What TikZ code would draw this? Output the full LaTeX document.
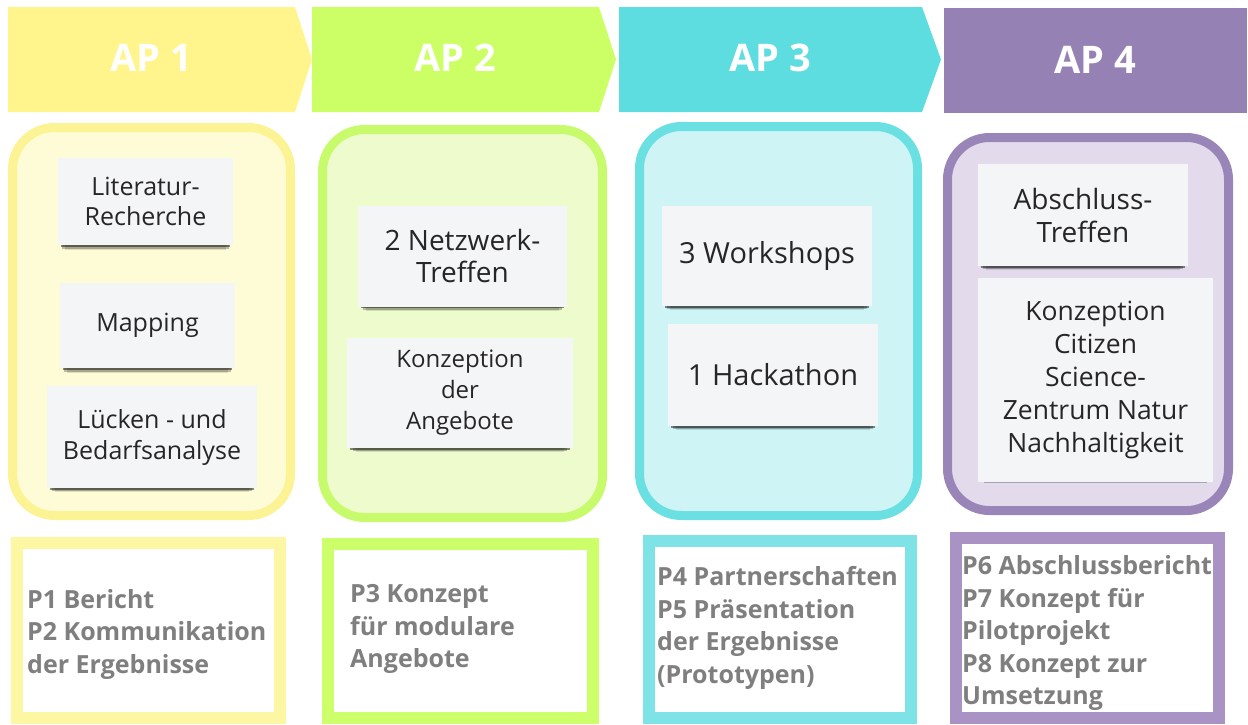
\documentclass[tikz,border=0pt]{standalone}
\usepackage{fontspec}
\setmainfont{Open Sans}
\usetikzlibrary{shadows}

\definecolor{yelHead}{HTML}{FFF58C}
\definecolor{yelLine}{HTML}{FCF494}
\definecolor{yelFill}{HTML}{FEFCD6}
\definecolor{yelOut}{HTML}{FDF6A2}
\definecolor{grnHead}{HTML}{CCFF66}
\definecolor{grnLine}{HTML}{C8FB6C}
\definecolor{grnFill}{HTML}{EEFBCD}
\definecolor{grnOut}{HTML}{CCFF6A}
\definecolor{cyaHead}{HTML}{5DDDE0}
\definecolor{cyaLine}{HTML}{6BE0E3}
\definecolor{cyaFill}{HTML}{CFF4F5}
\definecolor{cyaOut}{HTML}{7DE3E6}
\definecolor{vioHead}{HTML}{9681B5}
\definecolor{vioLine}{HTML}{9A85B9}
\definecolor{vioFill}{HTML}{E3DBEB}
\definecolor{vioOut}{HTML}{A893C4}
\definecolor{cardFill}{HTML}{F4F5F7}
\definecolor{cardInk}{HTML}{262626}
\definecolor{outInk}{HTML}{7F7F7F}

\begin{document}
\begin{tikzpicture}[x=1pt,y=-1pt,
head/.style = {% AP labels in the arrows
    text=white, font=\fontsize{38}{40}\selectfont\bfseries,
              },
phase/.style = {% rounded column frames
    line width=9pt, rounded corners=42pt,
               },
card/.style = {% sticky notes, soft shadow at the lower edge
    fill=cardFill, text=cardInk, align=center, inner sep=0pt,
    drop shadow={shadow xshift=0pt, shadow yshift=-9pt,
                 shadow scale=0.92, opacity=0.12, fill=black},
    drop shadow={shadow xshift=0pt, shadow yshift=-6pt,
                 shadow scale=0.95, opacity=0.25, fill=black},
    drop shadow={shadow xshift=0pt, shadow yshift=-3.5pt,
                 shadow scale=0.97, opacity=0.45, fill=black},
              },
resbox/.style = {% results boxes
    line width=12pt, fill=white,
                },
restext/.style = {% results text
    anchor=west, align=left, text=outInk, inner sep=0pt,
    font=\fontsize{25}{32.5}\selectfont\bfseries,
                 },                    ]

  \useasboundingbox (0,0) rectangle (1248,724);
  \fill[white] (0,0) rectangle (1248,724);

  % arrows on top
  \fill[yelHead] (8,7) -- (295,7) -- (312,59.5) -- (295,112) -- (8,112) -- cycle;
  \fill[grnHead] (312,7) -- (599,7) -- (616,59.5) -- (599,112) -- (312,112) -- cycle;
  \fill[cyaHead] (619,7) -- (922,7) -- (941,59.5) -- (922,112) -- (619,112) -- cycle;
  \fill[vioHead] (944,8) rectangle (1247,113);
  \node[head] (ap1) at (151,58) {AP 1};
  \node[head] (ap2) at (455,58) {AP 2};
  \node[head] (ap3) at (770,58) {AP 3};
  \node[head] (ap4) at (1095,60) {AP 4};

  % column frames
  \draw[phase, draw=yelLine, fill=yelFill] (12.5,127.5) rectangle (290.5,515.5);
  \draw[phase, draw=grnLine, fill=grnFill] (322.5,129.5) rectangle (602.5,517.5);
  \draw[phase, draw=cyaLine, fill=cyaFill] (639.5,126.5) rectangle (917.5,515.5);
  \draw[phase, draw=vioLine, fill=vioFill] (947.5,137.5) rectangle (1228.5,510.5);

  % sticky notes
  \node[card, minimum width=175pt, minimum height=87pt,
        font=\fontsize{25}{30}\selectfont] (lit) at (145.5,201.5)
        {Literatur-\\Recherche};
  \node[card, minimum width=175pt, minimum height=85pt,
        font=\fontsize{25}{30}\selectfont] (map) at (147.5,325.5)
        {Mapping};
  \node[card, minimum width=210pt, minimum height=102pt,
        font=\fontsize{25}{31}\selectfont] (gap) at (152,437)
        {Lücken - und\\Bedarfsanalyse};
  \node[card, minimum width=209pt, minimum height=101pt,
        font=\fontsize{28}{32}\selectfont] (net) at (462.5,256)
        {2 Netzwerk-\\Treffen};
  \node[card, minimum width=226pt, minimum height=110pt,
        font=\fontsize{24}{31}\selectfont] (conc) at (460,393)
        {Konzeption\\der\\Angebote};
  \node[card, minimum width=210pt, minimum height=100pt,
        font=\fontsize{29}{33}\selectfont] (ws) at (767,256)
        {3 Workshops};
  \node[card, minimum width=210pt, minimum height=102pt,
        font=\fontsize{29}{33}\selectfont] (hack) at (773,375)
        {1 Hackathon};
  \node[card, minimum width=210pt, minimum height=102pt,
        font=\fontsize{28}{33}\selectfont] (fin) at (1083,215)
        {Abschluss-\\Treffen};
  \node[card, minimum width=235pt, minimum height=204pt,
        font=\fontsize{26.5}{33}\selectfont] (csz) at (1095.5,380)
        {Konzeption\\Citizen\\Science-\\Zentrum Natur\\Nachhaltigkeit};

  % results
  \draw[resbox, draw=yelOut] (17,543) rectangle (280,718);
  \draw[resbox, draw=grnOut] (328,544) rectangle (593,718);
  \draw[resbox, draw=cyaOut] (649,541) rectangle (911,718);
  \draw[resbox, draw=vioOut] (956,538) rectangle (1219,718);
  \node[restext] (res1) at (27,634)
        {P1 Bericht\\P2 Kommunikation\\der Ergebnisse};
  \node[restext] (res2) at (350,629)
        {P3 Konzept\\für modulare\\Angebote};
  \node[restext] (res3) at (657,628)
        {P4 Partnerschaften\\P5 Präsentation\\der Ergebnisse\\(Prototypen)};
  \node[restext] (res4) at (962,633)
        {P6 Abschlussbericht\\P7 Konzept für\\Pilotprojekt\\P8 Konzept zur\\Umsetzung};

\end{tikzpicture}
\end{document}
